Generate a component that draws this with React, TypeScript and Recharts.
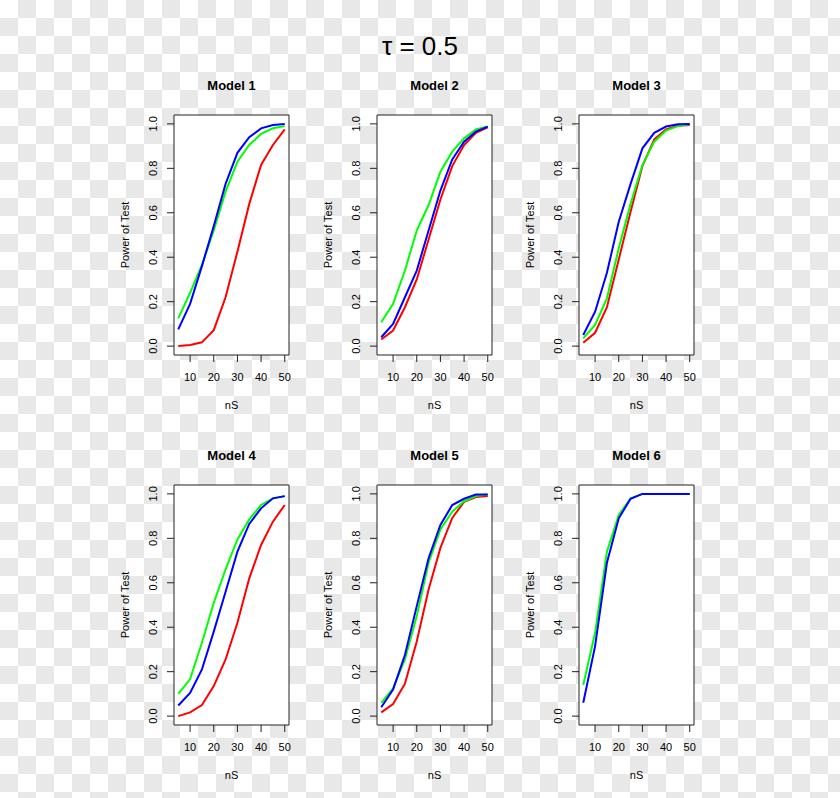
import React from 'react';
import { LineChart, Line, XAxis, YAxis, CartesianGrid } from 'recharts';

const NS = [5, 10, 15, 20, 25, 30, 35, 40, 45, 50];
const X_TICKS = [10, 20, 30, 40, 50];
const Y_TICKS = [0, 0.2, 0.4, 0.6, 0.8, 1.0];
const MAIN_TITLE = 'τ = 0.5';

const m1Red = [0.0, 0.005, 0.017, 0.072, 0.22, 0.425, 0.64, 0.815, 0.905, 0.975];
const m1Green = [0.125, 0.24, 0.365, 0.52, 0.695, 0.83, 0.905, 0.955, 0.98, 0.99];
const m1Blue = [0.075, 0.19, 0.36, 0.54, 0.73, 0.87, 0.94, 0.98, 0.995, 1.0];

const m2Red = [0.03, 0.07, 0.175, 0.3, 0.48, 0.66, 0.81, 0.905, 0.96, 0.985];
const m2Green = [0.107, 0.19, 0.34, 0.52, 0.635, 0.785, 0.875, 0.935, 0.975, 0.988];
const m2Blue = [0.04, 0.1, 0.22, 0.34, 0.52, 0.7, 0.84, 0.92, 0.965, 0.988];

const m3Red = [0.015, 0.06, 0.175, 0.39, 0.605, 0.81, 0.93, 0.975, 0.992, 0.995];
const m3Green = [0.035, 0.095, 0.215, 0.44, 0.64, 0.815, 0.92, 0.97, 0.99, 0.998];
const m3Blue = [0.05, 0.155, 0.33, 0.56, 0.73, 0.89, 0.96, 0.988, 0.998, 1.0];

const m4Red = [0.0, 0.017, 0.05, 0.135, 0.255, 0.42, 0.62, 0.77, 0.875, 0.95];
const m4Green = [0.1, 0.167, 0.33, 0.51, 0.66, 0.795, 0.885, 0.95, 0.98, 0.99];
const m4Blue = [0.048, 0.104, 0.21, 0.38, 0.56, 0.74, 0.865, 0.935, 0.98, 0.99];

const m5Red = [0.017, 0.054, 0.146, 0.336, 0.57, 0.757, 0.892, 0.964, 0.986, 0.991];
const m5Green = [0.06, 0.125, 0.255, 0.45, 0.69, 0.84, 0.92, 0.967, 0.99, 0.997];
const m5Blue = [0.04, 0.12, 0.275, 0.495, 0.71, 0.86, 0.95, 0.978, 0.997, 0.997];

const m6Green = [0.14, 0.375, 0.74, 0.905, 0.98, 1.0, 1.0, 1.0, 1.0, 1.0];
const m6Blue = [0.06, 0.315, 0.69, 0.89, 0.978, 1.0, 1.0, 1.0, 1.0, 1.0];

const MODELS = [
  { title: 'Model 1', red: m1Red, green: m1Green, blue: m1Blue },
  { title: 'Model 2', red: m2Red, green: m2Green, blue: m2Blue },
  { title: 'Model 3', red: m3Red, green: m3Green, blue: m3Blue },
  { title: 'Model 4', red: m4Red, green: m4Green, blue: m4Blue },
  { title: 'Model 5', red: m5Red, green: m5Green, blue: m5Blue },
  { title: 'Model 6', red: null, green: m6Green, blue: m6Blue },
];

const BOX_LEFTS = [174, 377, 579];
const BOX_TOPS = [115, 485];
const BOX_W = 115;
const BOX_H = 240;
const Y_AXIS_W = 64;
const TOP_SPACE = 40;
const X_AXIS_H = 60;
const RIGHT_SPACE = 21;

const FONT = '"Liberation Sans", Arial, Helvetica, sans-serif';

const YTick = (props: any) => {
  const { x, y, payload } = props;
  return (
    <text
      x={x}
      y={y}
      transform={`rotate(-90 ${x} ${y})`}
      textAnchor="middle"
      dominantBaseline="central"
      fontSize={11}
      fill="#000"
      fontFamily={FONT}
    >
      {Number(payload.value).toFixed(1)}
    </text>
  );
};

const YLabel = (props: any) => {
  const vb = props.viewBox || {};
  const cx = vb.x + 15;
  const cy = vb.y + vb.height / 2;
  return (
    <text
      x={cx}
      y={cy}
      transform={`rotate(-90 ${cx} ${cy})`}
      textAnchor="middle"
      dominantBaseline="central"
      fontSize={11}
      fill="#000"
      fontFamily={FONT}
    >
      Power of Test
    </text>
  );
};

function Panel({ model, left, top }: any) {
  const data = NS.map((n, i) => ({
    nS: n,
    red: model.red ? model.red[i] : null,
    green: model.green[i],
    blue: model.blue[i],
  }));
  const width = Y_AXIS_W + BOX_W + RIGHT_SPACE;
  const height = TOP_SPACE + BOX_H + X_AXIS_H;
  return (
    <div style={{ position: 'absolute', left: left - Y_AXIS_W, top: top - TOP_SPACE, width, height }}>
      <div
        style={{
          position: 'absolute',
          top: 0,
          left: Y_AXIS_W,
          width: BOX_W,
          textAlign: 'center',
          fontWeight: 'bold',
          fontSize: 13,
          lineHeight: '22px',
          color: '#000',
        }}
      >
        {model.title}
      </div>
      <LineChart
        width={width}
        height={height}
        data={data}
        margin={{ top: TOP_SPACE, right: RIGHT_SPACE, bottom: 0, left: 0 }}
      >
        <CartesianGrid
          fill="#ffffff"
          stroke="#222"
          strokeWidth={1}
          horizontalCoordinatesGenerator={({ offset }: any) => [offset.top, offset.top + offset.height]}
          verticalCoordinatesGenerator={({ offset }: any) => [offset.left, offset.left + offset.width]}
        />
        <XAxis
          dataKey="nS"
          type="number"
          domain={[3.2, 51.8]}
          ticks={X_TICKS}
          allowDataOverflow
          height={X_AXIS_H}
          axisLine={false}
          tickLine={{ stroke: '#222' }}
          tickSize={7}
          tickMargin={11}
          tick={{ fill: '#000', fontSize: 11, fontFamily: FONT }}
          label={{ value: 'nS', position: 'insideBottom', offset: 6, fill: '#000', fontSize: 11, fontFamily: FONT }}
        />
        <YAxis
          type="number"
          domain={[-0.04, 1.04]}
          ticks={Y_TICKS}
          allowDataOverflow
          width={Y_AXIS_W}
          axisLine={false}
          tickLine={{ stroke: '#222' }}
          tickSize={7}
          tickMargin={14}
          tick={<YTick />}
          label={<YLabel />}
        />
        {model.red && (
          <Line type="linear" dataKey="red" stroke="#ff0000" strokeWidth={2} dot={false} isAnimationActive={false} />
        )}
        <Line type="linear" dataKey="green" stroke="#00ff00" strokeWidth={2} dot={false} isAnimationActive={false} />
        <Line type="linear" dataKey="blue" stroke="#0000ff" strokeWidth={2} dot={false} isAnimationActive={false} />
      </LineChart>
    </div>
  );
}

export default function App() {
  return (
    <div
      style={{
        position: 'absolute',
        left: 0,
        top: 0,
        width: 840,
        height: 798,
        overflow: 'hidden',
        fontFamily: FONT,
        background: 'conic-gradient(#e8e8e8 0 25%, #ffffff 0 50%, #e8e8e8 0 75%, #ffffff 0) 0 0 / 36px 36px',
      }}
    >
      <div
        style={{
          position: 'absolute',
          top: 31,
          left: 0,
          width: 840,
          textAlign: 'center',
          fontSize: 26,
          lineHeight: '30px',
          color: '#000',
        }}
      >
        {MAIN_TITLE}
      </div>
      {MODELS.map((m, i) => (
        <Panel key={m.title} model={m} left={BOX_LEFTS[i % 3]} top={BOX_TOPS[Math.floor(i / 3)]} />
      ))}
    </div>
  );
}
